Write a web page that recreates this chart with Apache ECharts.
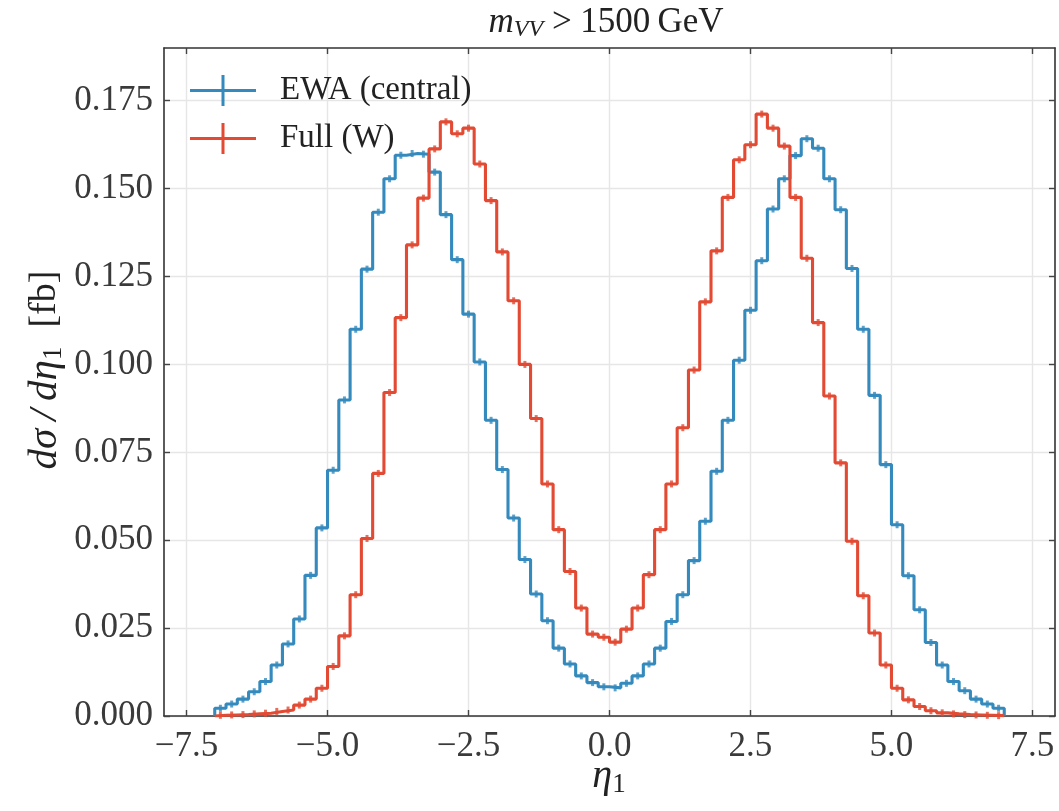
<!DOCTYPE html>
<html>
<head>
<meta charset="utf-8">
<script src="https://cdn.jsdelivr.net/npm/echarts@6/dist/echarts.min.js"></script>
<style>html,body{margin:0;padding:0;background:#fff}#chart{width:1059px;height:811px}</style>
</head>
<body>
<div id="chart"></div>
<script>
// ---- data ----
const binStart = -7.0;   // left edge of first bin
const binWidth = 0.2;    // bin width in eta
const seriesNames = ['EWA (central)', 'Full (W)'];
const ewaCentral = [
  0.0022, 0.0034, 0.0048, 0.0069, 0.0098, 0.0145, 0.0205, 0.0276, 0.0400, 0.0535,
  0.0699, 0.0899, 0.1100, 0.1271, 0.1433, 0.1528, 0.1595, 0.1600, 0.1598, 0.1547,
  0.1426, 0.1298, 0.1143, 0.1007, 0.0841, 0.0701, 0.0563, 0.0445, 0.0347, 0.0271,
  0.0193, 0.0148, 0.0114, 0.0095, 0.0083, 0.0080, 0.0093, 0.0114, 0.0148, 0.0193,
  0.0269, 0.0345, 0.0442, 0.0554, 0.0696, 0.0841, 0.1012, 0.1154, 0.1295, 0.1442,
  0.1528, 0.1594, 0.1642, 0.1615, 0.1528, 0.1440, 0.1273, 0.1100, 0.0912, 0.0715,
  0.0544, 0.0399, 0.0302, 0.0209, 0.0145, 0.0098, 0.0072, 0.0048, 0.0034, 0.0022
];
const fullW = [
  0.0002, 0.0003, 0.0004, 0.0006, 0.0008, 0.0013, 0.0017, 0.0031, 0.0048, 0.0079,
  0.0141, 0.0228, 0.0345, 0.0505, 0.0690, 0.0920, 0.1133, 0.1340, 0.1473, 0.1613,
  0.1690, 0.1656, 0.1672, 0.1570, 0.1466, 0.1320, 0.1181, 0.1000, 0.0846, 0.0660,
  0.0530, 0.0411, 0.0307, 0.0233, 0.0224, 0.0210, 0.0247, 0.0307, 0.0402, 0.0530,
  0.0660, 0.0820, 0.0984, 0.1178, 0.1323, 0.1475, 0.1582, 0.1625, 0.1712, 0.1672,
  0.1621, 0.1475, 0.1302, 0.1119, 0.0910, 0.0720, 0.0497, 0.0342, 0.0236, 0.0145,
  0.0079, 0.0046, 0.0027, 0.0015, 0.0009, 0.0006, 0.0004, 0.0003, 0.0002, 0.0001
];
const xTicks = [-7.5, -5.0, -2.5, 0.0, 2.5, 5.0, 7.5];
const yTicks = [0.000, 0.025, 0.050, 0.075, 0.100, 0.125, 0.150, 0.175];
const xRange = [-7.9, 7.9];
const yRange = [0, 0.19];

// ---- helpers ----
function stepPoints(vals) {
  const pts = [[binStart, 0]];
  vals.forEach((v, i) => pts.push([binStart + i * binWidth, v]));
  const end = binStart + vals.length * binWidth;
  pts.push([end, vals[vals.length - 1]]);
  pts.push([end, 0]);
  return pts;
}
function centerPoints(vals) {
  return vals.map((v, i) => [binStart + (i + 0.5) * binWidth, v]);
}

const FONT = '"Liberation Serif", "DejaVu Serif", serif';
const BLUE = '#348ABD';
const RED = '#E24A33';
const TXT = '#3a3a3a';
const legendIcon = 'path://M0,14 L66,14 L66,17 L0,17 Z M31.5,0 L34.5,0 L34.5,31 L31.5,31 Z';

const tickCommon = { show: true, inside: true, length: 6, lineStyle: { color: '#444', width: 1.4 } };
const axisLineCommon = { show: true, onZero: false, lineStyle: { color: '#333', width: 1.6 } };

const chart = echarts.init(document.getElementById('chart'), null, { renderer: 'canvas' });
chart.setOption({
  animation: false,
  backgroundColor: '#ffffff',
  grid: { left: 164, right: 4, top: 48, bottom: 95, containLabel: false },
  xAxis: [
    {
      type: 'value', min: xRange[0], max: xRange[1], position: 'bottom',
      axisLine: axisLineCommon,
      axisTick: Object.assign({}, tickCommon, { customValues: xTicks }),
      axisLabel: {
        customValues: xTicks, margin: 13, color: TXT, fontFamily: FONT, fontSize: 35,
        formatter: v => (v < 0 ? '\u2212' : '') + Math.abs(v).toFixed(1)
      },
      splitLine: { show: true, lineStyle: { color: '#e6e6e6', width: 1.4 } }
    },
    {
      type: 'value', min: xRange[0], max: xRange[1], position: 'top',
      axisLine: axisLineCommon,
      axisTick: Object.assign({}, tickCommon, { customValues: xTicks }),
      axisLabel: { show: false },
      splitLine: { show: false }
    }
  ],
  yAxis: [
    {
      type: 'value', min: yRange[0], max: yRange[1], position: 'left',
      axisLine: axisLineCommon,
      axisTick: Object.assign({}, tickCommon, { customValues: yTicks }),
      axisLabel: {
        customValues: yTicks, margin: 11, color: TXT, fontFamily: FONT, fontSize: 35,
        formatter: v => v.toFixed(3)
      },
      splitLine: { show: true, lineStyle: { color: '#e6e6e6', width: 1.4 } }
    },
    {
      type: 'value', min: yRange[0], max: yRange[1], position: 'right',
      axisLine: axisLineCommon,
      axisTick: Object.assign({}, tickCommon, { customValues: yTicks }),
      axisLabel: { show: false },
      splitLine: { show: false }
    }
  ],
  legend: {
    left: 190, top: 74, orient: 'vertical', padding: 0,
    itemWidth: 66, itemHeight: 31, itemGap: 15,
    data: [
      { name: seriesNames[0], icon: legendIcon, itemStyle: { color: BLUE } },
      { name: seriesNames[1], icon: legendIcon, itemStyle: { color: RED } }
    ],
    formatter: name => '{g|}' + name,
    textStyle: {
      color: '#222', fontFamily: FONT, fontSize: 33,
      rich: { g: { width: 19 } }
    },
    selectedMode: false
  },
  series: [
    {
      name: seriesNames[0], type: 'line', step: 'end', data: stepPoints(ewaCentral),
      symbol: 'none', showSymbol: false, color: BLUE,
      lineStyle: { color: BLUE, width: 3.1 }, z: 3
    },
    {
      name: seriesNames[0] + ' err', type: 'scatter', data: centerPoints(ewaCentral),
      symbol: 'rect', symbolSize: [3, 7], itemStyle: { color: BLUE }, z: 3, silent: true
    },
    {
      name: seriesNames[1], type: 'line', step: 'end', data: stepPoints(fullW),
      symbol: 'none', showSymbol: false, color: RED,
      lineStyle: { color: RED, width: 3.1 }, z: 4
    },
    {
      name: seriesNames[1] + ' err', type: 'scatter', data: centerPoints(fullW),
      symbol: 'rect', symbolSize: [3, 7], itemStyle: { color: RED }, z: 4, silent: true
    }
  ],
  graphic: [
    {
      type: 'text', x: 606, y: 23, silent: true,
      style: {
        text: '{m|m}{s|VV}{r| > 1500\u2009GeV}',
        align: 'center', verticalAlign: 'middle', fill: '#222',
        rich: {
          m: { fontFamily: FONT, fontStyle: 'italic', fontSize: 35, lineHeight: 38, verticalAlign: 'middle', fill: '#222' },
          s: { fontFamily: FONT, fontStyle: 'italic', fontSize: 24, lineHeight: 24, verticalAlign: 'bottom', fill: '#222' },
          r: { fontFamily: FONT, fontSize: 35, lineHeight: 38, verticalAlign: 'middle', fill: '#222' }
        }
      }
    },
    {
      type: 'text', x: 609, y: 776, silent: true,
      style: {
        text: '{e|\u03b7}{s|1}',
        align: 'center', verticalAlign: 'middle', fill: '#222',
        rich: {
          e: { fontFamily: FONT, fontStyle: 'italic', fontSize: 40, lineHeight: 44, verticalAlign: 'middle', fill: '#222' },
          s: { fontFamily: FONT, fontSize: 27, lineHeight: 27, verticalAlign: 'bottom', fill: '#222' }
        }
      }
    },
    {
      type: 'text', x: 45, y: 370, rotation: Math.PI / 2, silent: true,
      style: {
        text: '{i|d\u03c3\u2009/\u2009d\u03b7}{s|1}{r|\u2002[fb]}',
        align: 'center', verticalAlign: 'middle', fill: '#222',
        rich: {
          i: { fontFamily: FONT, fontStyle: 'italic', fontSize: 41, lineHeight: 44, verticalAlign: 'middle', fill: '#222' },
          s: { fontFamily: FONT, fontSize: 27, lineHeight: 27, verticalAlign: 'bottom', fill: '#222' },
          r: { fontFamily: FONT, fontSize: 38, lineHeight: 44, verticalAlign: 'middle', fill: '#222' }
        }
      }
    }
  ]
});
</script>
</body>
</html>
